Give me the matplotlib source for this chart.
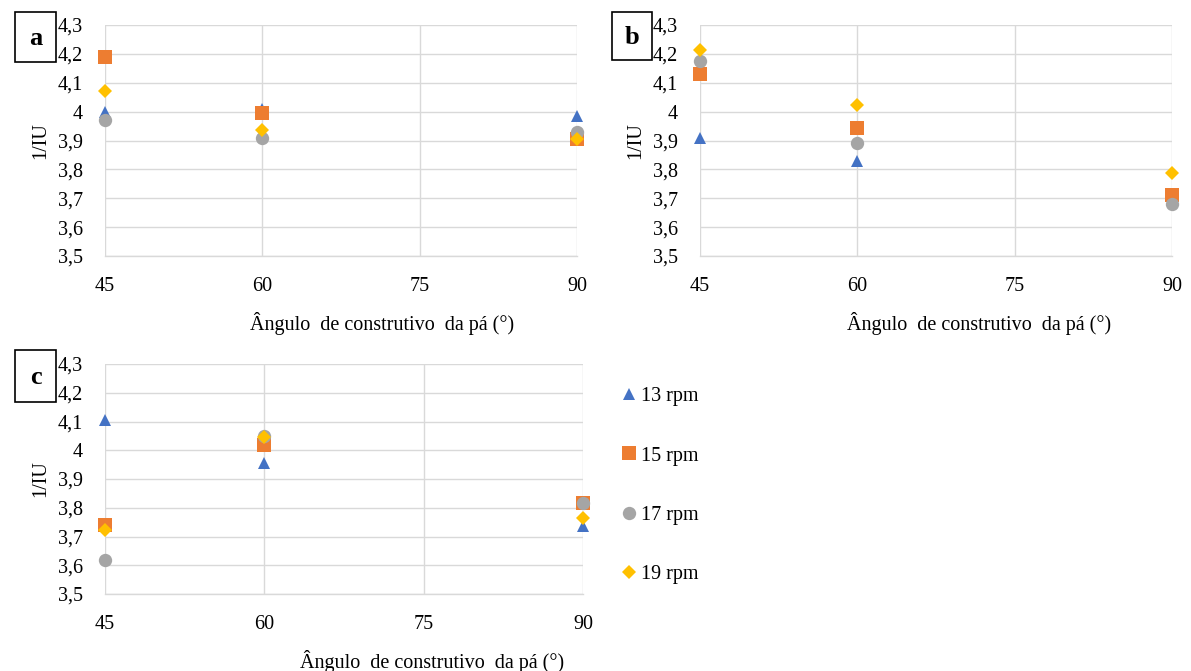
import matplotlib
matplotlib.use("Agg")
import matplotlib.pyplot as plt
from matplotlib.ticker import FuncFormatter, FixedLocator
from matplotlib.lines import Line2D
from matplotlib.patches import Rectangle

plt.rcParams['font.family'] = ['Liberation Serif', 'DejaVu Serif']

# Blade construction angle (degrees)
angles = [45, 60, 90]
series_labels = ["13 rpm", "15 rpm", "17 rpm", "19 rpm"]

# 1/IU values per rotation speed, panel a
a_13 = [4.00, 4.01, 3.985]
a_15 = [4.19, 3.995, 3.905]
a_17 = [3.97, 3.91, 3.93]
a_19 = [4.07, 3.935, 3.905]

# panel b
b_13 = [3.91, 3.83, 3.71]
b_15 = [4.13, 3.945, 3.71]
b_17 = [4.175, 3.893, 3.68]
b_19 = [4.212, 4.022, 3.787]

# panel c
c_13 = [4.105, 3.955, 3.735]
c_15 = [3.74, 4.02, 3.815]
c_17 = [3.618, 4.05, 3.815]
c_19 = [3.722, 4.045, 3.765]

x_ticks = [45, 60, 75, 90]
y_ticks = [3.5, 3.6, 3.7, 3.8, 3.9, 4.0, 4.1, 4.2, 4.3]
x_title = "Ângulo  de construtivo  da pá (°)"
y_title = "1/IU"

colors = ["#4472C4", "#ED7D31", "#A5A5A5", "#FFC000"]
markers = ["^", "s", "o", "D"]
msizes = [9.0, 9.6, 9.6, 7.0]
FS = 14.5

W, H = 1191, 671
fig = plt.figure(figsize=(W / 100, H / 100), dpi=100)


def px_axes(left, top, right, bottom):
    return fig.add_axes([left / W, 1 - bottom / H, (right - left) / W, (bottom - top) / H])


def fmt(v, pos):
    s = ("%.1f" % v).rstrip("0").rstrip(".")
    return s.replace(".", ",")


def letter_box(letter, left, top, right, bottom):
    fig.patches.append(Rectangle((left / W, 1 - bottom / H), (right - left) / W,
                                 (bottom - top) / H, transform=fig.transFigure,
                                 facecolor="white", edgecolor="black",
                                 linewidth=1.2, zorder=5))
    fig.text((left + right) / 2 / W, 1 - (top + bottom) / 2 / H - 0.002, letter,
             fontsize=19, fontweight="bold", ha="center", va="center", zorder=6)


def draw_panel(ax, data, xlabel_x, ylabel_x):
    for vals, c, m, ms in zip(data, colors, markers, msizes):
        ax.plot(angles, vals, linestyle="none", marker=m, color=c,
                markersize=ms, markeredgewidth=0, clip_on=False, zorder=3)
    ax.set_xlim(45, 90)
    ax.set_ylim(3.5, 4.3)
    ax.xaxis.set_major_locator(FixedLocator(x_ticks))
    ax.yaxis.set_major_locator(FixedLocator(y_ticks))
    ax.yaxis.set_major_formatter(FuncFormatter(fmt))
    ax.grid(True, color="#D9D9D9", linewidth=1.0)
    ax.set_axisbelow(True)
    for side in ["top", "right", "left"]:
        ax.spines[side].set_visible(False)
    ax.spines["bottom"].set_color("#D9D9D9")
    ax.spines["bottom"].set_linewidth(1.0)
    ax.tick_params(axis="both", length=0, labelsize=FS, colors="black")
    ax.tick_params(axis="y", pad=15.8)
    ax.tick_params(axis="x", pad=15.0)
    ax.set_xlabel(x_title, fontsize=FS)
    ax.xaxis.set_label_coords(xlabel_x, -0.243)
    ax.set_ylabel(y_title, fontsize=FS)
    ax.yaxis.set_label_coords(ylabel_x, 0.5)


ax_a = px_axes(105, 25, 577, 256)
ax_b = px_axes(700, 25, 1172, 256)
ax_c = px_axes(105, 364, 583, 594)

draw_panel(ax_a, [a_13, a_15, a_17, a_19], 0.587, -0.117)
draw_panel(ax_b, [b_13, b_15, b_17, b_19], 0.591, -0.117)
draw_panel(ax_c, [c_13, c_15, c_17, c_19], 0.684, -0.115)

letter_box("a", 15, 12, 56, 62)
letter_box("b", 612, 12, 652, 60)
letter_box("c", 15, 350, 56, 402)

handles = [Line2D([], [], linestyle="none", marker=m, color=c, markersize=ms,
                  markeredgewidth=0)
           for c, m, ms in zip(colors, markers, msizes)]
fig.legend(handles, series_labels, loc="upper left",
           bbox_to_anchor=(610 / W, 1 - 377 / H), frameon=False,
           fontsize=FS, handlelength=0.9, handletextpad=0.15,
           labelspacing=2.0, borderpad=0)

fig.savefig("out.png", dpi=100)
